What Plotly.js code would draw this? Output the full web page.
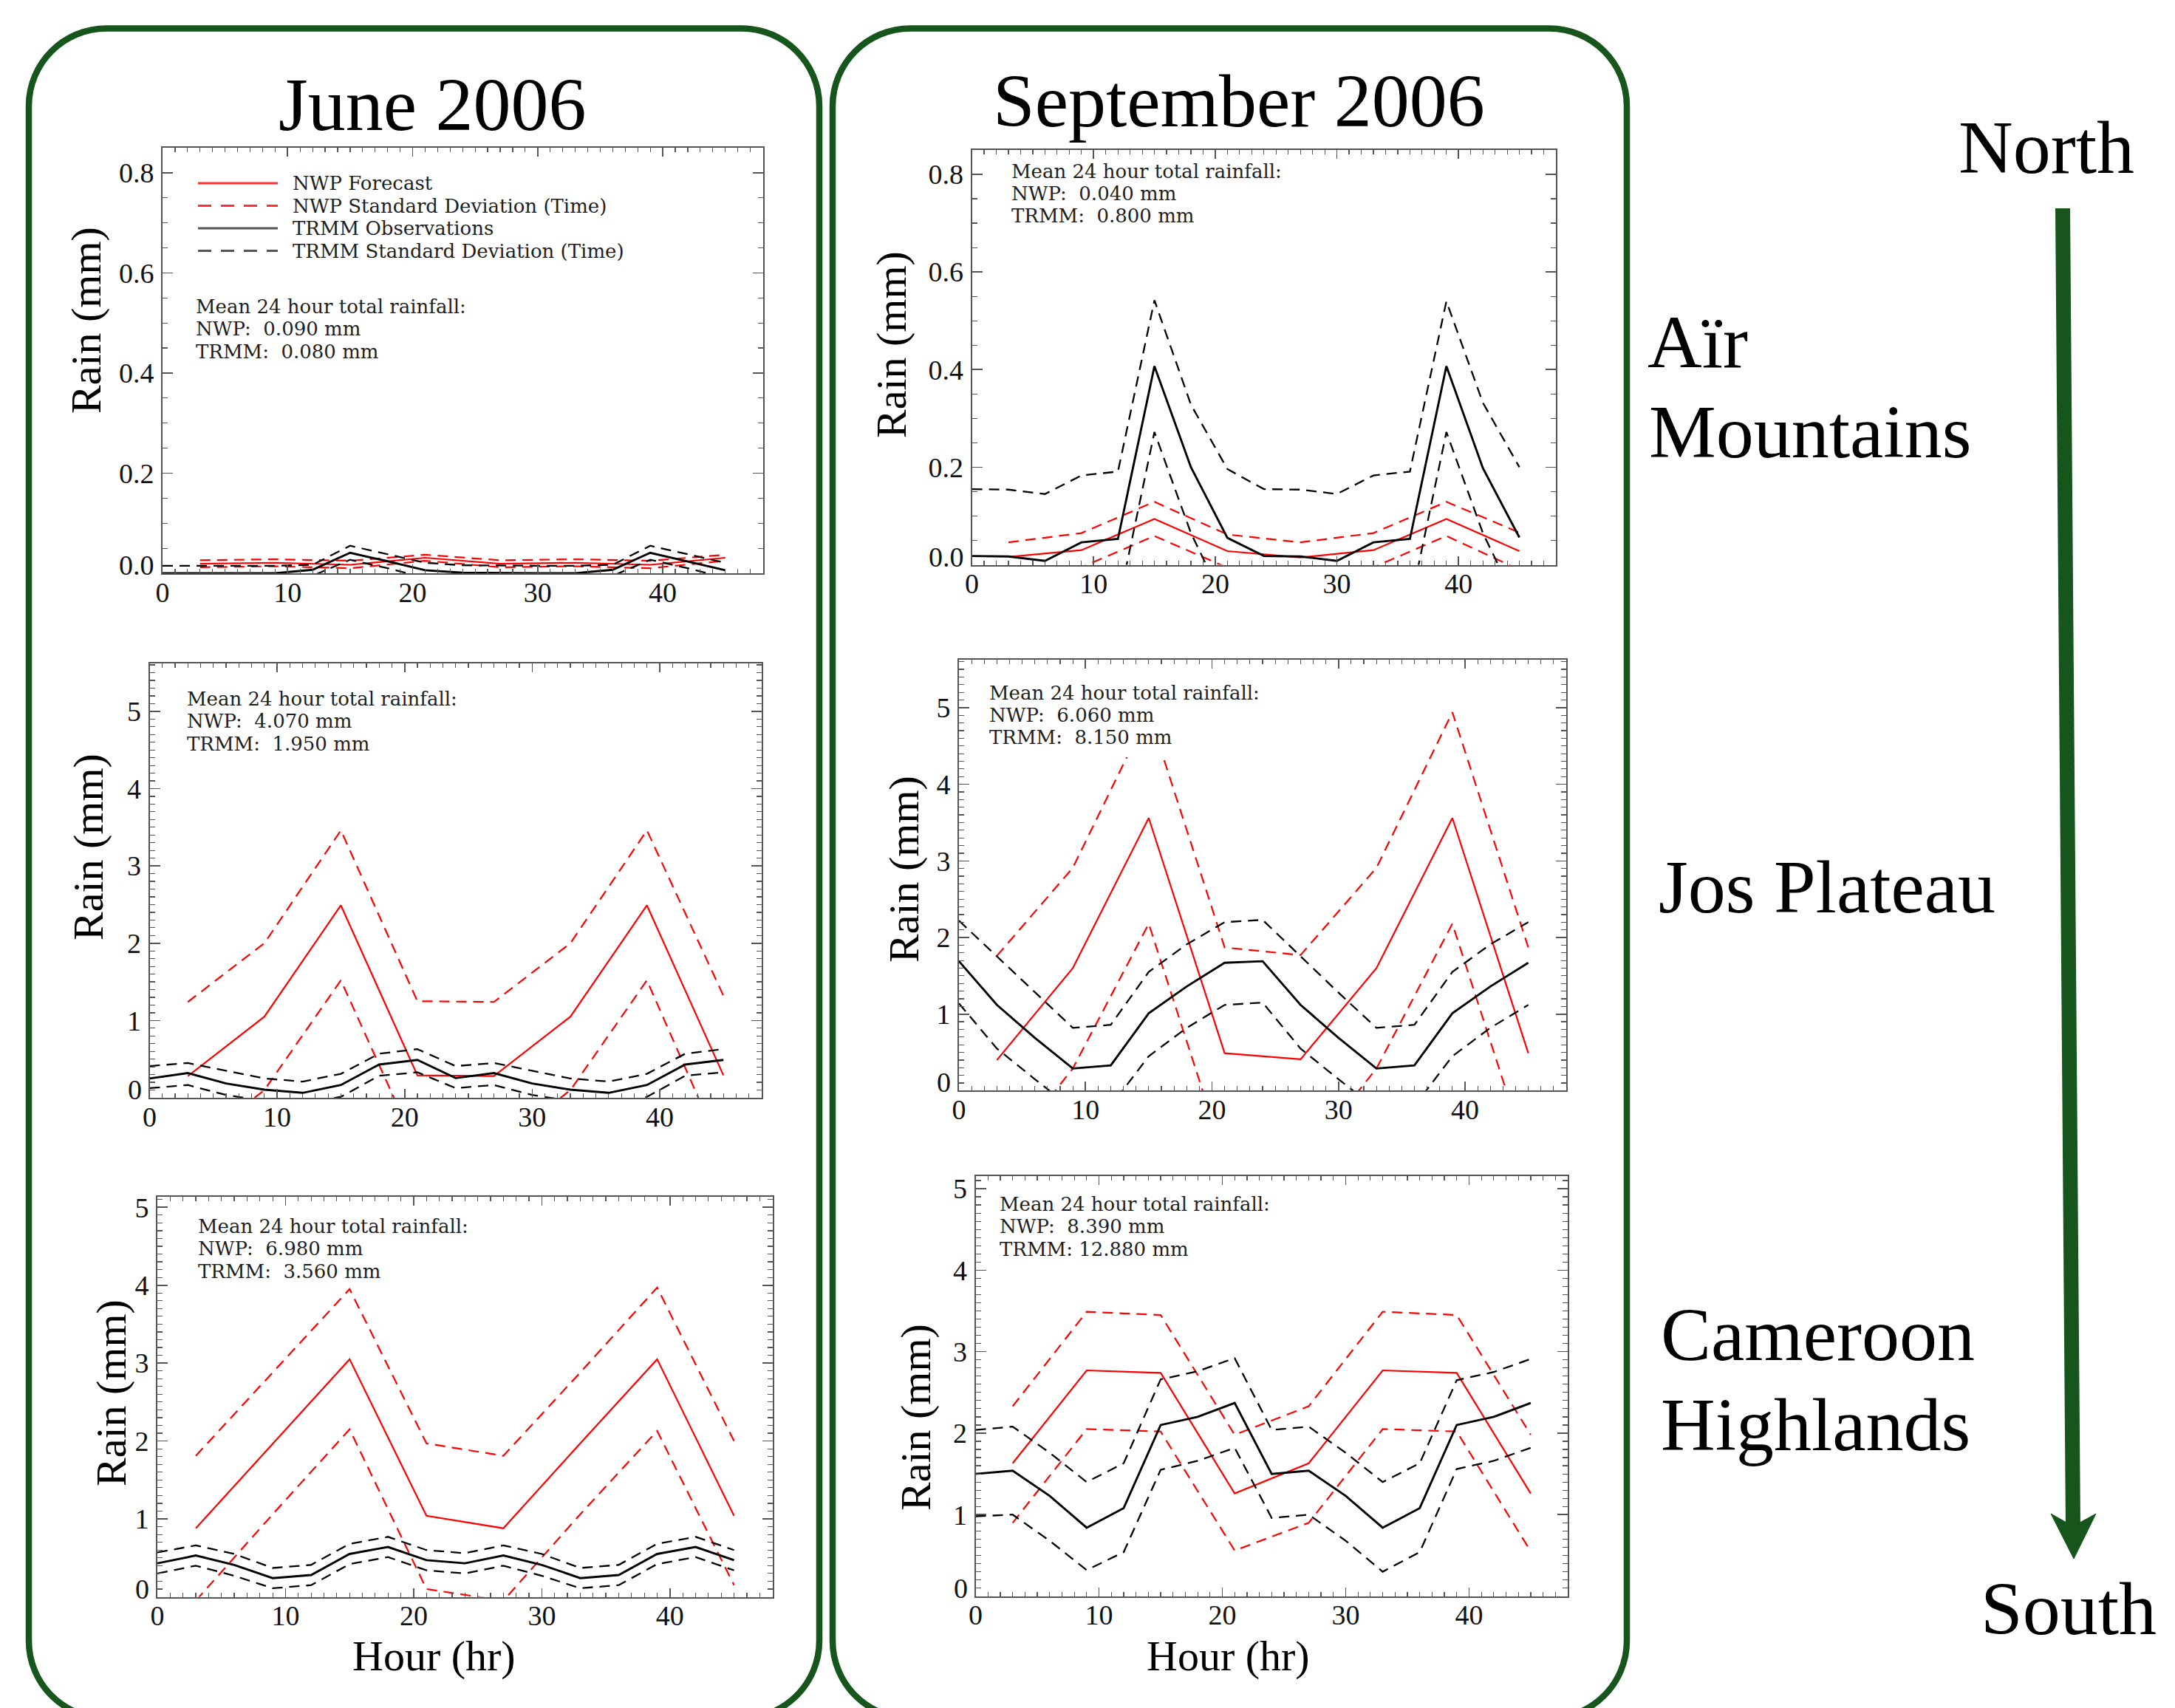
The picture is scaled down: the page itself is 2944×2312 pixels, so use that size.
<!DOCTYPE html>
<html><head><meta charset="utf-8">
<script src="https://cdn.plot.ly/plotly-3.0.1.min.js"></script>
<style>html,body{margin:0;padding:0;background:#fff}#chart{width:2944px;height:2312px}</style>
</head><body><div id="chart"></div>
<script>
// ---------------- DATA ----------------
const hoursTRMM = [0,3,6,9,12,15,18,21,24,27,30,33,36,39,42,45];
const hoursNWP  = [3,9,15,21,27,33,39,45];
const hourTicks = [0,10,20,30,40];
const airTicks = [0.2,0.4,0.6,0.8];
const airTickText = ['0.2','0.4','0.6','0.8'];
const rainTicks = [1,2,3,4,5];
const rainTickText = ['1','2','3','4','5'];

const columnTitles = ['June 2006','September 2006'];
const regionNames = [['Aïr','Mountains'],['Jos Plateau'],['Cameroon','Highlands']];
const legendLabels = ['NWP Forecast','NWP Standard Deviation (Time)','TRMM Observations','TRMM Standard Deviation (Time)'];
const meanNWP  = ['0.090','0.040','4.070','6.060','6.980','8.390'];
const meanTRMM = [' 0.080',' 0.800',' 1.950',' 8.150',' 3.560','12.880'];

// June 2006 – Aïr Mountains
const junAirTRMM   = [0,0,0,0,0.007,0.041,0.024,0.006,0.001,0,0,0,0.007,0.041,0.024,0.006];
const junAirTRMMUp = [0.015,0.015,0.015,0.015,0.017,0.055,0.038,0.021,0.016,0.015,0.015,0.015,0.017,0.055,0.038,0.021];
const junAirTRMMLo = [-0.015,-0.015,-0.015,-0.015,-0.005,0.027,0.010,-0.009,-0.014,-0.015,-0.015,-0.015,-0.005,0.027,0.010,-0.009];
const junAirNWP    = [0.019,0.021,0.017,0.031,0.019,0.021,0.017,0.031];
const junAirNWPUp  = [0.026,0.028,0.025,0.037,0.026,0.028,0.025,0.037];
const junAirNWPLo  = [0.012,0.014,0.010,0.025,0.012,0.014,0.010,0.025];

// September 2006 – Aïr Mountains
const sepAirTRMM   = [0.018,0.017,0.008,0.046,0.053,0.407,0.200,0.055,0.018,0.017,0.008,0.046,0.053,0.407,0.198,0.056];
const sepAirTRMMUp = [0.155,0.154,0.145,0.183,0.191,0.542,0.328,0.196,0.155,0.154,0.145,0.183,0.191,0.540,0.332,0.200];
const sepAirTRMMLo = [-0.12,-0.12,-0.13,-0.09,-0.085,0.272,0.065,-0.09,-0.12,-0.12,-0.13,-0.09,-0.085,0.272,0.065,-0.09];
const sepAirNWP    = [0.016,0.030,0.094,0.028,0.015,0.030,0.094,0.028];
const sepAirNWPUp  = [0.046,0.065,0.129,0.062,0.046,0.065,0.129,0.066];
const sepAirNWPLo  = [-0.014,-0.005,0.059,-0.006,-0.016,-0.005,0.059,-0.010];

// June 2006 – Jos Plateau
const junJosTRMM   = [0.25,0.32,0.185,0.105,0.064,0.165,0.43,0.49,0.255,0.32,0.185,0.105,0.064,0.165,0.43,0.49];
const junJosTRMMUp = [0.41,0.45,0.35,0.25,0.21,0.31,0.57,0.63,0.41,0.45,0.35,0.25,0.21,0.31,0.57,0.63];
const junJosTRMMLo = [0.125,0.165,0.036,-0.04,-0.08,0.012,0.285,0.33,0.125,0.165,0.036,-0.04,-0.08,0.012,0.285,0.33];
const junJosNWP    = [0.28,1.05,2.49,0.29,0.28,1.05,2.49,0.29];
const junJosNWPUp  = [1.24,2.0,3.46,1.25,1.24,2.0,3.46,1.32];
const junJosNWPLo  = [-0.68,0.1,1.52,-0.67,-0.68,0.1,1.52,-0.74];

// September 2006 – Jos Plateau
const sepJosTRMM   = [1.69,1.12,0.69,0.29,0.33,1.01,1.36,1.67,1.69,1.12,0.69,0.29,0.33,1.01,1.36,1.67];
const sepJosTRMMUp = [2.22,1.75,1.28,0.82,0.86,1.55,1.91,2.20,2.23,1.75,1.28,0.82,0.86,1.55,1.91,2.20];
const sepJosTRMMLo = [1.14,0.55,0.15,-0.24,-0.20,0.45,0.82,1.12,1.15,0.55,0.15,-0.24,-0.20,0.45,0.82,1.12];
const sepJosNWP    = [0.40,1.60,3.56,0.49,0.41,1.60,3.56,0.49];
const sepJosNWPUp  = [1.76,2.91,4.94,1.87,1.77,2.91,4.94,1.87];
const sepJosNWPLo  = [-0.96,0.29,2.18,-0.89,-0.95,0.29,2.18,-0.89];

// June 2006 – Cameroon Highlands
const junCamTRMM   = [0.43,0.53,0.41,0.24,0.28,0.55,0.64,0.47,0.43,0.53,0.41,0.24,0.28,0.55,0.64,0.47];
const junCamTRMMUp = [0.57,0.66,0.55,0.37,0.41,0.68,0.77,0.60,0.56,0.66,0.55,0.37,0.41,0.68,0.77,0.60];
const junCamTRMMLo = [0.30,0.40,0.27,0.11,0.15,0.42,0.51,0.34,0.30,0.40,0.27,0.11,0.15,0.42,0.51,0.34];
const junCamNWP    = [0.88,1.97,3.05,1.04,0.88,1.97,3.05,1.04];
const junCamNWPUp  = [1.81,2.88,3.95,1.97,1.81,2.88,3.97,2.00];
const junCamNWPLo  = [-0.05,1.06,2.15,0.10,-0.05,1.06,2.13,0.15];

// September 2006 – Cameroon Highlands
const sepCamTRMM   = [1.50,1.54,1.23,0.84,1.08,2.10,2.20,2.37,1.50,1.54,1.23,0.84,1.08,2.10,2.20,2.37];
const sepCamTRMMUp = [2.04,2.08,1.76,1.40,1.63,2.66,2.76,2.92,2.04,2.08,1.76,1.40,1.63,2.65,2.75,2.91];
const sepCamTRMMLo = [0.98,1.00,0.68,0.32,0.54,1.55,1.66,1.82,0.96,1.00,0.68,0.30,0.54,1.56,1.66,1.82];
const sepCamNWP    = [1.63,2.77,2.74,1.26,1.63,2.77,2.74,1.26];
const sepCamNWPUp  = [2.33,3.49,3.45,1.98,2.33,3.49,3.45,1.98];
const sepCamNWPLo  = [0.90,2.05,2.02,0.56,0.90,2.05,2.02,0.55];

// ---------------- LAYOUT HELPERS ----------------
const W = 2944, H = 2312;
const px = v => v / W;
const py = v => 1 - v / H;
const SERIF = 'Liberation Serif, Times New Roman, serif';
const SMALL = 'DejaVu Serif, Liberation Serif, serif';
const GREEN = '#16561c';
const RED = '#ff0000';
const AX = '#555555';
const TXT = '#1e1e1e';
const NB = '\u00a0';

const panels = [
  {box:[220,200,1032.5,776],   yr:[0,0.85], tv:airTicks, tt:airTickText, zero:'0.0', minor:0.05, rain:[117,434],  txt:[263,416],
   d:[junAirTRMM,junAirTRMMUp,junAirTRMMLo,junAirNWP,junAirNWPUp,junAirNWPLo]},
  {box:[1315.6,203,2106,764.5], yr:[0,0.85], tv:airTicks, tt:airTickText, zero:'0.0', minor:0.05, rain:[1206,467], txt:[1367,233],
   d:[sepAirTRMM,sepAirTRMMUp,sepAirTRMMLo,sepAirNWP,sepAirNWPUp,sepAirNWPLo]},
  {box:[202.5,898,1031,1486],  yr:[0,5.62], tv:rainTicks, tt:rainTickText, zero:'0', minor:0.1, rain:[119,1147], txt:[251,947],
   d:[junJosTRMM,junJosTRMMUp,junJosTRMMLo,junJosNWP,junJosNWPUp,junJosNWPLo]},
  {box:[1298,892.6,2120,1476.4], yr:[0,5.63], tv:rainTicks, tt:rainTickText, zero:'0', minor:0.1, rain:[1223,1177], txt:[1337,939],
   d:[sepJosTRMM,sepJosTRMMUp,sepJosTRMMLo,sepJosNWP,sepJosNWPUp,sepJosNWPLo]},
  {box:[213,1619.5,1045.6,2161.5], yr:[0,5.14], tv:rainTicks, tt:rainTickText, zero:'0', minor:0.1, rain:[150,1886], txt:[266,1661],
   d:[junCamTRMM,junCamTRMMUp,junCamTRMMLo,junCamNWP,junCamNWPUp,junCamNWPLo]},
  {box:[1320.6,1591.7,2122,2160.6], yr:[0,5.157], tv:rainTicks, tt:rainTickText, zero:'0', minor:0.1, rain:[1239,1919], txt:[1351,1631],
   d:[sepCamTRMM,sepCamTRMMUp,sepCamTRMMLo,sepCamNWP,sepCamNWPUp,sepCamNWPLo]}
];

const traces = [];
const layout = {
  width: W, height: H,
  margin: {l:0, r:0, t:0, b:0},
  paper_bgcolor: '#ffffff', plot_bgcolor: '#ffffff',
  showlegend: false,
  annotations: [], shapes: []
};

function ann(text, x, y, o) {
  o = o || {};
  layout.annotations.push(Object.assign({
    text: text, x: px(x), y: py(y), xref: 'paper', yref: 'paper',
    showarrow: false, xanchor: 'left', yanchor: 'middle',
    font: {family: SMALL, size: 26, color: TXT}
  }, o));
}

const dashData = '14px,9px';
const TICKFONT = {family: SERIF, size: 38, color: '#111'};
const LSP = 30.5;

panels.forEach((p, i) => {
  const n = i === 0 ? '' : String(i + 1);
  const xa = 'x' + n, ya = 'y' + n;
  const [l, t, r, b] = p.box;
  const common = {
    showline: true, linecolor: AX, linewidth: 2, mirror: 'ticks',
    ticks: 'inside', tickcolor: AX, tickwidth: 1.6,
    showgrid: false, zeroline: false,
    tickfont: TICKFONT
  };
  layout['xaxis' + n] = Object.assign({}, common, {
    domain: [px(l), px(r)], anchor: ya, range: [0, 48],
    tickmode: 'array', tickvals: hourTicks, ticktext: hourTicks.map(String),
    ticklen: 12, ticklabelstandoff: -9,
    minor: {dtick: 1, tick0: 0, ticks: 'inside', ticklen: 6, tickcolor: AX, tickwidth: 1.2, showgrid: false}
  });
  layout['yaxis' + n] = Object.assign({}, common, {
    domain: [py(b), py(t)], anchor: xa, range: p.yr,
    tickmode: 'array', tickvals: p.tv, ticktext: p.tt,
    ticklen: 14, ticklabelstandoff: 2,
    minor: {dtick: p.minor, tick0: 0, ticks: 'inside', ticklen: 7, tickcolor: AX, tickwidth: 1.2, showgrid: false}
  });
  const [tr, trU, trL, nw, nwU, nwL] = p.d;
  const mk = (x, y, color, width, dash) => ({
    x: x, y: y, xaxis: xa, yaxis: ya, type: 'scatter', mode: 'lines',
    line: {color: color, width: width, dash: dash}, hoverinfo: 'skip'
  });
  traces.push(mk(hoursNWP, nwU, RED, 2.2, dashData));
  traces.push(mk(hoursNWP, nwL, RED, 2.2, dashData));
  traces.push(mk(hoursNWP, nw, RED, 2.2, 'solid'));
  traces.push(mk(hoursTRMM, trU, '#000', 2.3, dashData));
  traces.push(mk(hoursTRMM, trL, '#000', 2.3, dashData));
  traces.push(mk(hoursTRMM, tr, '#000', 2.9, 'solid'));

  // "0" tick label sits slightly above the bottom axis in the original
  ann(p.zero, l - 9, b - 11, {xanchor: 'right', font: TICKFONT});
  // Rain (mm)
  ann('Rain (mm)', p.rain[0], p.rain[1], {xanchor: 'center', textangle: -90, font: {family: SERIF, size: 58, color: '#000'}});
  // mean rainfall block
  const tx = p.txt[0], ty = p.txt[1] - 1.5;
  ann('Mean 24 hour total rainfall:', tx, ty);
  ann('NWP:' + NB + NB + meanNWP[i] + NB + 'mm', tx, ty + LSP);
  ann('TRMM:' + NB + meanTRMM[i].replace(/ /g, NB) + NB + 'mm', tx, ty + 2 * LSP);
});

// white box behind text in Sept Jos panel (hides the dashed peak)
layout.shapes.push({type: 'rect', xref: 'paper', yref: 'paper', layer: 'above',
  x0: px(1333), x1: px(1738), y0: py(918), y1: py(1025), fillcolor: '#ffffff', line: {width: 0}});

// legend in first panel
const legRows = [248, 248 + LSP, 248 + 2 * LSP, 248 + 3 * LSP];
const legColors = ['#ff3030', '#ff3030', '#555555', '#555555'];
const legDash = ['solid', '18px,13px', 'solid', '18px,13px'];
legendLabels.forEach((lab, k) => {
  layout.shapes.push({type: 'line', xref: 'paper', yref: 'paper', layer: 'above',
    x0: px(268), x1: px(376), y0: py(legRows[k]), y1: py(legRows[k]),
    line: {color: legColors[k], width: 3, dash: legDash[k]}});
  ann(lab, 394, legRows[k]);
});

// x-axis titles
ann('Hour (hr)', 587, 2241, {xanchor: 'center', font: {family: SERIF, size: 58, color: '#000'}});
ann('Hour (hr)', 1662, 2241, {xanchor: 'center', font: {family: SERIF, size: 58, color: '#000'}});

// Column titles
ann(columnTitles[0], 585, 141, {xanchor: 'center', font: {family: SERIF, size: 102, color: '#000'}});
ann(columnTitles[1], 1677, 137, {xanchor: 'center', font: {family: SERIF, size: 102, color: '#000'}});

// Region names
const big = {family: SERIF, size: 102, color: '#000'};
ann(regionNames[0][0], 2228, 462, {font: big});
ann(regionNames[0][1], 2230, 584, {font: big});
ann(regionNames[1][0], 2243, 1200, {font: big});
ann(regionNames[2][0], 2246, 1806, {font: big});
ann(regionNames[2][1], 2246, 1928, {font: big});
ann('North', 2770, 199, {xanchor: 'center', font: big});
ann('South', 2800, 2177, {xanchor: 'center', font: big});

// Rounded green frames
function rounded(x0, y0, x1, y1, r) {
  const k = 0.5523 * r;
  const P = (x, y) => px(x) + ',' + py(y);
  return 'M' + P(x0, y0 + r) +
    ' C' + P(x0, y0 + r - k) + ' ' + P(x0 + r - k, y0) + ' ' + P(x0 + r, y0) +
    ' L' + P(x1 - r, y0) +
    ' C' + P(x1 - r + k, y0) + ' ' + P(x1, y0 + r - k) + ' ' + P(x1, y0 + r) +
    ' L' + P(x1, y1 - r) +
    ' C' + P(x1, y1 - r + k) + ' ' + P(x1 - r + k, y1) + ' ' + P(x1 - r, y1) +
    ' L' + P(x0 + r, y1) +
    ' C' + P(x0 + r - k, y1) + ' ' + P(x0, y1 - r + k) + ' ' + P(x0, y1 - r) + ' Z';
}
layout.shapes.push({type: 'path', xref: 'paper', yref: 'paper', layer: 'below',
  path: rounded(39, 38.5, 1109, 2326, 105), line: {color: GREEN, width: 8.5}});
layout.shapes.push({type: 'path', xref: 'paper', yref: 'paper', layer: 'below',
  path: rounded(1127, 38.5, 2202, 2326, 105), line: {color: GREEN, width: 8.5}});

// North -> South arrow
layout.shapes.push({type: 'line', xref: 'paper', yref: 'paper', layer: 'above',
  x0: px(2792), y0: py(282), x1: px(2806), y1: py(2068), line: {color: GREEN, width: 20}});
layout.shapes.push({type: 'path', xref: 'paper', yref: 'paper', layer: 'above',
  path: 'M' + px(2807) + ',' + py(2110) + ' L' + px(2776) + ',' + py(2049) +
        ' L' + px(2806) + ',' + py(2066) + ' L' + px(2837) + ',' + py(2049) + ' Z',
  fillcolor: GREEN, line: {color: GREEN, width: 1}});

Plotly.newPlot('chart', traces, layout, {staticPlot: true, displayModeBar: false});
</script>
</body></html>
